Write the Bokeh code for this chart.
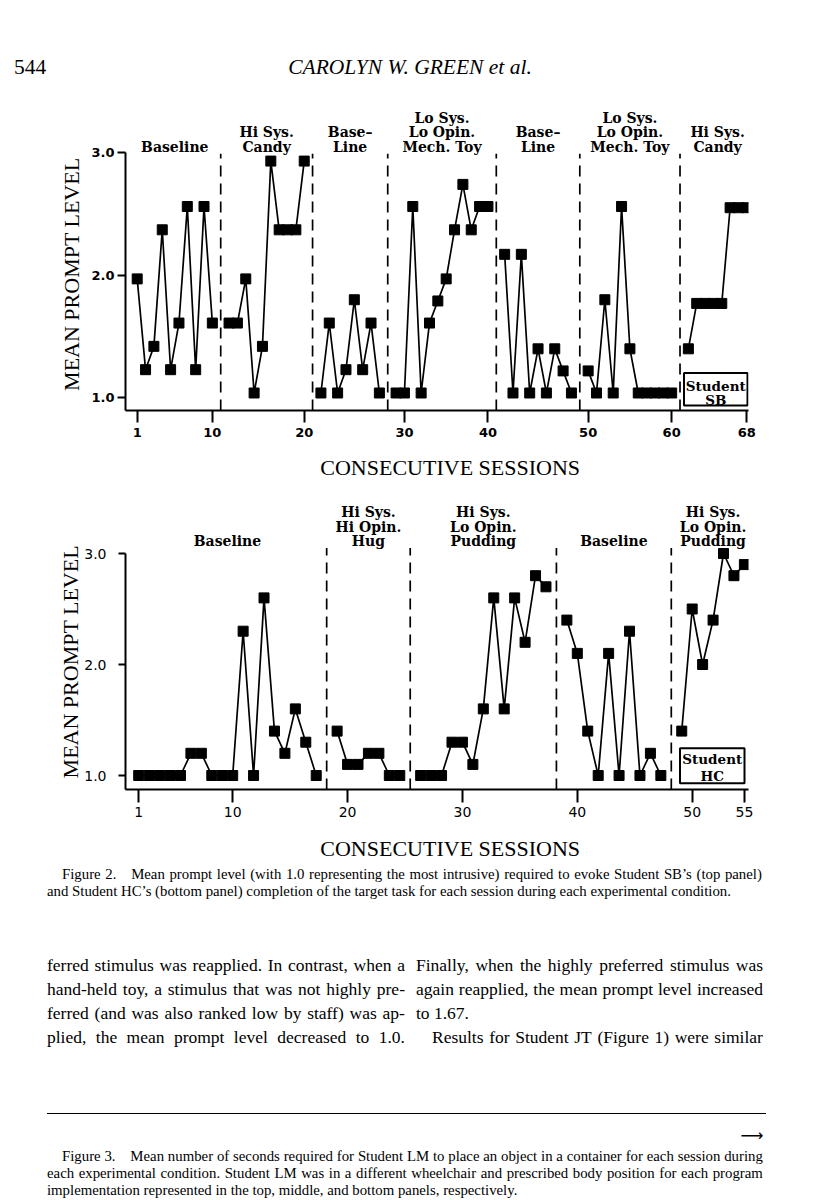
import numpy as np
from bokeh.plotting import figure
from bokeh.models import Range1d, FixedTicker, Label, BoxAnnotation, PrintfTickFormatter, Div
from bokeh.layouts import column
from bokeh.embed import file_html
from bokeh.resources import INLINE
from bokeh.core.properties import value

# ---------------- data : Student SB (top panel) ----------------
sb_baseline_1 = [1.97, 1.23, 1.42, 2.37, 1.23, 1.61, 2.56, 1.23, 2.56, 1.61]
sb_candy_1 = [1.61, 1.61, 1.97, 1.04, 1.42, 2.93, 2.37, 2.37, 2.37, 2.93]
sb_baseline_2 = [1.04, 1.61, 1.04, 1.23, 1.80, 1.23, 1.61, 1.04]
sb_toy_1 = [1.04, 1.04, 2.56, 1.04, 1.61, 1.79, 1.97, 2.37, 2.74, 2.37, 2.56, 2.56]
sb_baseline_3 = [2.17, 1.04, 2.17, 1.04, 1.40, 1.04, 1.40, 1.22, 1.04]
sb_toy_2 = [1.22, 1.04, 1.80, 1.04, 2.56, 1.40, 1.04, 1.04, 1.04, 1.04, 1.04]
sb_candy_2 = [1.40, 1.77, 1.77, 1.77, 1.77, 2.55, 2.55, 2.55]
sb_names = [["Baseline"], ["Hi Sys.", "Candy"], ["Base\u2013", "Line"],
            ["Lo Sys.", "Lo Opin.", "Mech. Toy"], ["Base\u2013", "Line"],
            ["Lo Sys.", "Lo Opin.", "Mech. Toy"], ["Hi Sys.", "Candy"]]
sb_ticks = [1, 10, 20, 30, 40, 50, 60, 68]

# ---------------- data : Student HC (bottom panel) ----------------
hc_baseline_1 = [1.0, 1.0, 1.0, 1.0, 1.0, 1.2, 1.2, 1.0, 1.0, 1.0, 2.3, 1.0, 2.6, 1.4, 1.2, 1.6, 1.3, 1.0]
hc_hug = [1.4, 1.1, 1.1, 1.2, 1.2, 1.0, 1.0]
hc_pudding_1 = [1.0, 1.0, 1.0, 1.3, 1.3, 1.1, 1.6, 2.6, 1.6, 2.6, 2.2, 2.8, 2.7]
hc_baseline_2 = [2.4, 2.1, 1.4, 1.0, 2.1, 1.0, 2.3, 1.0, 1.2, 1.0]
hc_pudding_2 = [1.4, 2.5, 2.0, 2.4, 3.0, 2.8, 2.9]
hc_names = [["Baseline"], ["Hi Sys.", "Hi Opin.", "Hug"], ["Hi Sys.", "Lo Opin.", "Pudding"],
            ["Baseline"], ["Hi Sys.", "Lo Opin.", "Pudding"]]
hc_ticks = [1, 10, 20, 30, 40, 50, 55]

y_ticks = [1.0, 2.0, 3.0]

sb_phases = [sb_baseline_1, sb_candy_1, sb_baseline_2, sb_toy_1, sb_baseline_3, sb_toy_2, sb_candy_2]
hc_phases = [hc_baseline_1, hc_hug, hc_pudding_1, hc_baseline_2, hc_pudding_2]


def phase_slots(phases):
    # one empty slot is left between consecutive phases (where the dashed line is)
    out, start = [], 0
    for k, vals in enumerate(phases):
        out.append([start + k + i for i in range(len(vals))])
        start += len(vals)
    return out


def session_to_slot(phases, session):
    start = 0
    for k, vals in enumerate(phases):
        if session <= start + len(vals):
            return session - 1 + k
        start += len(vals)
    return session - 1 + len(phases) - 1


W = 816
FRAME_L = 125   # common left border (frames of stacked plots are aligned)
FRAME_R = 68    # common right border


class Geo:
    """Page geometry of one panel (page pixel coordinates)."""
    def __init__(self, top_ref, height, bb, x_origin, px_slot, y3_ref, px_unit):
        self.h, self.bb = height, bb
        self.fl = FRAME_L
        self.fr = W - FRAME_R
        self.ft = top_ref
        self.fb = top_ref + height - bb
        self.xo, self.pxs, self.y3, self.pxu = x_origin, px_slot, y3_ref, px_unit
        self.x0 = self.x(self.fl)
        self.x1 = self.x(self.fr)
        self.y0 = self.y(self.fb)
        self.y1 = self.y(self.ft)

    def x(self, rx):
        return (rx - self.xo) / self.pxs

    def y(self, ry):
        return 3.0 + (self.y3 - ry) / self.pxu


def build_panel(phases, names, ticks, geo, dash_top, label_bottom_ref,
                tick_font_size, tick_bold, x_tick_out, x_standoff, y_tick_out, y_standoff,
                xlabel_standoff, ylabel_standoff, ylabel_text, xlabel_text):
    p = figure(width=W, height=geo.h,
               x_range=Range1d(geo.x0, geo.x1), y_range=Range1d(geo.y0, geo.y1),
               output_backend="svg", toolbar_location=None,
               min_border_left=FRAME_L, min_border_right=FRAME_R,
               min_border_top=0, min_border_bottom=geo.bb)
    p.grid.visible = False
    p.outline_line_color = None
    p.background_fill_color = "white"
    p.border_fill_color = "white"

    slots = phase_slots(phases)
    for xs, ys in zip(slots, phases):
        p.line(xs, ys, line_color="black", line_width=1.7)
        p.scatter(xs, ys, marker="square", size=10, fill_color="black", line_color="black")

    gaps = [s[-1] + 1 for s in slots[:-1]]
    p.segment(x0=gaps, y0=[geo.y0] * len(gaps), x1=gaps, y1=[dash_top] * len(gaps),
              line_color="black", line_width=1.7, line_dash="11 7")

    lx, ly, lt = [], [], []
    for s, lines in zip(slots, names):
        cx = (s[0] + s[-1]) / 2.0
        for j, t in enumerate(reversed(lines)):
            lx.append(cx)
            ly.append(geo.y(label_bottom_ref - 14.5 * j))
            lt.append(t)
    p.text(x=lx, y=ly, text=lt, text_font=value("DejaVu Serif"), text_font_style="bold",
           text_font_size="14px", text_align="center", text_baseline="middle", text_color="black")

    tick_slots = [session_to_slot(phases, t) for t in ticks]
    ax = p.xaxis[0]
    ax.ticker = FixedTicker(ticks=tick_slots)
    ax.major_label_overrides = {s: str(t) for s, t in zip(tick_slots, ticks)}
    ay = p.yaxis[0]
    ay.ticker = FixedTicker(ticks=y_ticks)
    ay.formatter = PrintfTickFormatter(format="%.1f")
    ay.bounds = (geo.y0, 3.0)
    for a in (ax, ay):
        a.axis_line_width = 2
        a.axis_line_color = "black"
        a.major_tick_line_width = 2
        a.major_tick_line_color = "black"
        a.major_tick_in = 0
        a.minor_tick_line_color = None
        a.major_label_text_font = "DejaVu Sans"
        a.major_label_text_font_size = tick_font_size
        a.major_label_text_font_style = "bold" if tick_bold else "normal"
        a.major_label_text_color = "black"
        a.axis_label_text_font = "Liberation Serif"
        a.axis_label_text_font_size = "22px"
        a.axis_label_text_font_style = "normal"
        a.axis_label_text_color = "black"
    ax.major_tick_out = x_tick_out
    ax.major_label_standoff = x_standoff
    ay.major_tick_out = y_tick_out
    ay.major_label_standoff = y_standoff
    # non-collapsing spaces move the centred titles to where the original has them
    ax.axis_label = xlabel_text
    ax.axis_label_standoff = xlabel_standoff
    ay.axis_label = ylabel_text
    ay.axis_label_standoff = ylabel_standoff
    return p


def add_label(p, geo, rx, ry, text, size):
    p.add_layout(Label(x=geo.x(rx), y=geo.y(ry), text=text, text_font="DejaVu Serif",
                       text_font_size=size, text_font_style="bold", text_align="center",
                       text_baseline="middle", text_color="black"))


def student_box(p, geo, l, r, t, b, name, ty1, ty2):
    p.add_layout(BoxAnnotation(left=geo.x(l), right=geo.x(r), top=geo.y(t), bottom=geo.y(b),
                               fill_color="white", fill_alpha=1.0, line_color="black",
                               line_width=2, line_alpha=1.0))
    cx = (l + r) / 2.0
    add_label(p, geo, cx, ty1, "Student", "13.5px")
    add_label(p, geo, cx, ty2, name, "13.5px")


# ---------------- html text helpers (header, captions, body text) ----------------
def esc(s):
    return s.replace("&", "&amp;").replace("<", "&lt;").replace(">", "&gt;")


def line_plain(x, y, text, size, italic=False, center=False, lh=1.1):
    tr = "translate(-50%,-50%)" if center else "translateY(-50%)"
    st = "italic" if italic else "normal"
    return (f'<div style="position:absolute;left:{x}px;top:{y}px;transform:{tr};white-space:nowrap;'
            f"font-family:'Liberation Serif';font-size:{size}px;font-style:{st};line-height:{lh};color:#000;\">"
            f"{esc(text)}</div>")


def line_justified(x, y, width, text, size, lh=1.1):
    words = "".join(f"<span>{esc(w)}</span>" for w in text.split(" "))
    return (f'<div style="position:absolute;left:{x}px;top:{y}px;width:{width}px;transform:translateY(-50%);'
            f"display:flex;justify-content:space-between;white-space:nowrap;"
            f"font-family:'Liberation Serif';font-size:{size}px;line-height:{lh};color:#000;\">"
            f"{words}</div>")


def page_div(height, parts):
    html = (f'<div style="position:relative;width:{W}px;height:{height}px;overflow:hidden;background:#fff;">'
            + "".join(parts) + "</div>")
    return Div(text=html, width=W, height=height, margin=0)


# ---------------- header ----------------
header = page_div(100, [
    line_plain(14, 68, "544", 21.5),
    line_plain(410, 68, "CAROLYN W. GREEN et al.", 21.5, italic=True, center=True),
])

# ---------------- top panel (Student SB) ----------------
g1 = Geo(top_ref=100, height=385, bb=75, x_origin=136.7, px_slot=8.351, y3_ref=152.0, px_unit=122.7)
p1 = build_panel(sb_phases, sb_names, sb_ticks, g1, dash_top=2.99, label_bottom_ref=146.0,
                 tick_font_size="13px", tick_bold=True, x_tick_out=12, x_standoff=5,
                 y_tick_out=8, y_standoff=3, xlabel_standoff=15, ylabel_standoff=4,
                 ylabel_text="MEAN PROMPT LEVEL\u2003\u2002\u2009",
                 xlabel_text="\u2003\u2009CONSECUTIVE SESSIONS")
student_box(p1, g1, 683.5, 747, 372.5, 405, "SB", 385.5, 399.5)

# ---------------- bottom panel (Student HC) ----------------
g2 = Geo(top_ref=485, height=381, bb=77, x_origin=138.2, px_slot=10.443, y3_ref=553.0, px_unit=111.0)
p2 = build_panel(hc_phases, hc_names, hc_ticks, g2, dash_top=3.05, label_bottom_ref=540.7,
                 tick_font_size="14px", tick_bold=False, x_tick_out=13, x_standoff=4,
                 y_tick_out=7, y_standoff=12, xlabel_standoff=16, ylabel_standoff=-2,
                 ylabel_text="MEAN PROMPT LEVEL\u2003\u2003\u2009",
                 xlabel_text="\u2003\u2009CONSECUTIVE SESSIONS")
student_box(p2, g2, 679.5, 744, 747.7, 782.7, "HC", 758.5, 775.5)

# ---------------- caption and body text ----------------
B0 = 866
BH = 1199 - B0
cap2 = ["Figure 2.\u2003Mean prompt level (with 1.0 representing the most intrusive) required to evoke Student SB\u2019s (top panel)",
        "and Student HC\u2019s (bottom panel) completion of the target task for each session during each experimental condition."]
left_col = ["ferred stimulus was reapplied. In contrast, when a",
            "hand-held toy, a stimulus that was not highly pre-",
            "ferred (and was also ranked low by staff) was ap-",
            "plied, the mean prompt level decreased to 1.0."]
right_col = ["Finally, when the highly preferred stimulus was",
             "again reapplied, the mean prompt level increased",
             "to 1.67.",
             "Results for Student JT (Figure 1) were similar"]
cap3 = ["Figure 3.\u2003Mean number of seconds required for Student LM to place an object in a container for each session during",
        "each experimental condition. Student LM was in a different wheelchair and prescribed body position for each program",
        "implementation represented in the top, middle, and bottom panels, respectively."]

CAP = 14.8
BODY = 17.5
parts = []
parts.append(line_justified(62, 874 - B0, 700, cap2[0], CAP))
parts.append(line_plain(47, 891 - B0, cap2[1], CAP))
body_y = [966, 990, 1014, 1038]
for i, (a, b) in enumerate(zip(left_col, right_col)):
    parts.append(line_justified(47, body_y[i] - B0, 358, a, BODY))
    if i == 2:
        parts.append(line_plain(416, body_y[i] - B0, b, BODY))
    elif i == 3:
        parts.append(line_justified(432, body_y[i] - B0, 331, b, BODY))
    else:
        parts.append(line_justified(416, body_y[i] - B0, 347, b, BODY))
parts.append(f'<div style="position:absolute;left:47px;top:{1113 - B0}px;width:719px;height:0;'
             f'border-top:1.5px solid #000;"></div>')
parts.append(f'<div style="position:absolute;left:752px;top:{1136 - B0}px;transform:translate(-50%,-50%);'
             f"font-family:'DejaVu Sans';font-size:16px;line-height:1.1;color:#000;\">\u27f6</div>")
parts.append(line_justified(62, 1156 - B0, 701, cap3[0], CAP))
parts.append(line_justified(47, 1173 - B0, 716, cap3[1], CAP))
parts.append(line_plain(47, 1190 - B0, cap3[2], CAP))
body = page_div(BH, parts)

page = column(header, p1, p2, body, spacing=0)
open("out.html", "w").write(file_html(page, INLINE))
